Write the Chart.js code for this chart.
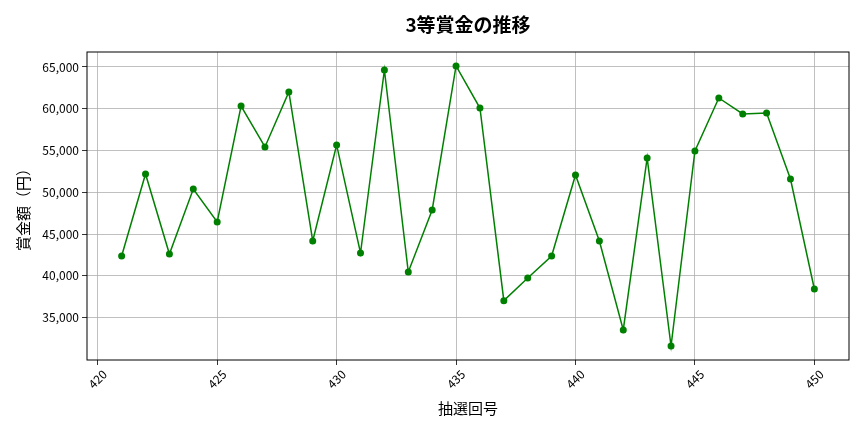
<!DOCTYPE html>
<html>
<head>
<meta charset="utf-8">
<script src="https://cdn.jsdelivr.net/npm/chart.js@4/dist/chart.umd.min.js"></script>
<style>
html,body{margin:0;padding:0;background:#fff;}
#wrap{width:864px;height:432px;position:relative;}
</style>
</head>
<body>
<div id="wrap"><canvas id="c"></canvas></div>
<script>
const draws = [421,422,423,424,425,426,427,428,429,430,431,432,433,434,435,436,437,438,439,440,441,442,443,444,445,446,447,448,449,450];
const prizes = [42380,52200,42620,50400,46450,60330,55430,62010,44180,55670,42740,64640,40470,47890,65120,60090,37040,39750,42380,52080,44180,33530,54110,31610,54950,61290,59380,59500,51600,38430];
const xTicks = [420,425,430,435,440,445,450];
const yTicks = [35000,40000,45000,50000,55000,60000,65000];
const titleText = '3等賞金の推移';
const xTitle = '抽選回号';
const yTitle = '賞金額（円）';
const FONT = "'Noto Sans CJK JP', 'Noto Sans', sans-serif";

const framePlugin = {
  id: 'frame',
  afterDraw(chart) {
    const a = chart.chartArea, ctx = chart.ctx;
    ctx.save();
    ctx.strokeStyle = '#000';
    ctx.lineWidth = 1;
    ctx.strokeRect(a.left, a.top, a.right - a.left, a.bottom - a.top);
    ctx.font = 'bold 19px ' + FONT;
    ctx.fillStyle = '#000';
    ctx.textAlign = 'center';
    ctx.textBaseline = 'middle';
    ctx.fillText(titleText, (a.left + a.right) / 2, 25);
    ctx.restore();
  }
};

new Chart(document.getElementById('c'), {
  type: 'line',
  data: {
    datasets: [{
      data: draws.map((d, i) => ({x: d, y: prizes[i]})),
      borderColor: '#008000',
      backgroundColor: '#008000',
      borderWidth: 1.5,
      pointRadius: 3.5,
      pointHoverRadius: 3.5,
      pointBorderWidth: 0,
      tension: 0,
      fill: false
    }]
  },
  plugins: [framePlugin],
  options: {
    responsive: true,
    maintainAspectRatio: false,
    animation: false,
    layout: {padding: {left: 0, right: 15, top: 52, bottom: 0}},
    plugins: {
      legend: {display: false},
      tooltip: {enabled: false},
      title: {display: false}
    },
    scales: {
      x: {
        type: 'linear',
        min: 419.55,
        max: 451.45,
        afterBuildTicks(s) { s.ticks = xTicks.map(v => ({value: v})); },
        afterFit(s) { s.height = 72; },
        ticks: {
          color: '#000',
          font: {family: FONT, size: 12},
          minRotation: 45,
          maxRotation: 45,
          labelOffset: 7,
          padding: 2,
          autoSkip: false
        },
        grid: {color: '#b0b0b0', lineWidth: 0.8, tickLength: 5, tickColor: '#000', drawTicks: true},
        border: {display: false},
        title: {
          display: true,
          text: xTitle,
          color: '#000',
          font: {family: FONT, size: 15},
          padding: {top: 0, bottom: 15}
        }
      },
      y: {
        type: 'linear',
        min: 29935,
        max: 66795,
        afterBuildTicks(s) { s.ticks = yTicks.map(v => ({value: v})); },
        afterFit(s) { s.width = 87; },
        ticks: {
          color: '#000',
          font: {family: FONT, size: 12},
          padding: 3,
          callback: v => v.toLocaleString('en-US')
        },
        grid: {color: '#b0b0b0', lineWidth: 0.8, tickLength: 5, tickColor: '#000', drawTicks: true},
        border: {display: false},
        title: {
          display: true,
          text: yTitle,
          color: '#000',
          font: {family: FONT, size: 15},
          padding: {top: 14, bottom: 0}
        }
      }
    }
  }
});
</script>
</body>
</html>
